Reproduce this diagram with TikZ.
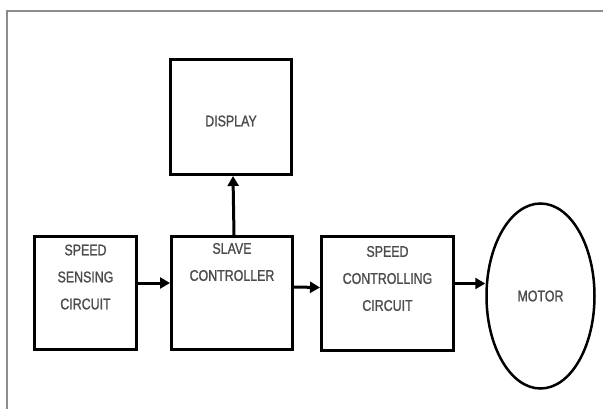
\documentclass[tikz,border=0pt]{standalone}
\usepackage{fontspec}
\setmainfont{Liberation Sans}[FakeStretch=0.8,FakeBold=1.2]
\usetikzlibrary{arrows.meta,shapes.geometric}
\tikzset{
  blk/.style={draw,line width=3pt,inner sep=0pt},
  txt/.style={font=\fontsize{15.5}{27}\selectfont,text=black!70,align=center},
  arr/.style={line width=3pt,-{Triangle[length=10pt,width=11pt]}}
}
\begin{document}
\begin{tikzpicture}[x=1pt,y=-1pt,line join=miter]
  \useasboundingbox (0,0) rectangle (603,409);
  \draw[black!45,line width=2pt] (7,409)--(7,11)--(603,11);
  \node[blk,minimum width=102pt,minimum height=113pt,
    label={[txt,yshift=16pt]center:SPEED\\SENSING\\CIRCUIT}] (sens) at (85.5,293) {};
  \node[blk,minimum width=121pt,minimum height=113pt,
    label={[txt,yshift=31pt]center:SLAVE\\CONTROLLER}] (slave) at (232,293) {};
  \node[blk,minimum width=132pt,minimum height=114pt,
    label={[txt,yshift=15pt]center:SPEED\\CONTROLLING\\CIRCUIT}] (ctrl) at (387.5,293.5) {};
  \node[blk,minimum width=121pt,minimum height=115pt,
    label={[txt,yshift=-4pt]center:DISPLAY}] (disp) at (231,117) {};
  \node[blk,ellipse,line width=2.5pt,minimum width=108pt,minimum height=185pt,
    label={[txt]center:MOTOR}] (motor) at (540.5,296) {};
  \draw[arr] ([yshift=10pt]sens.east) -- ([yshift=10pt]slave.west);
  \draw[arr] ([yshift=6pt]slave.east) -- ([yshift=6pt]ctrl.west);
  \draw[arr] ([yshift=10pt]ctrl.east) -- ([yshift=10pt]ctrl.east -| motor.west);
  \draw[arr] ([xshift=2pt]slave.north) -- ([xshift=2pt]disp.south);
\end{tikzpicture}
\end{document}
